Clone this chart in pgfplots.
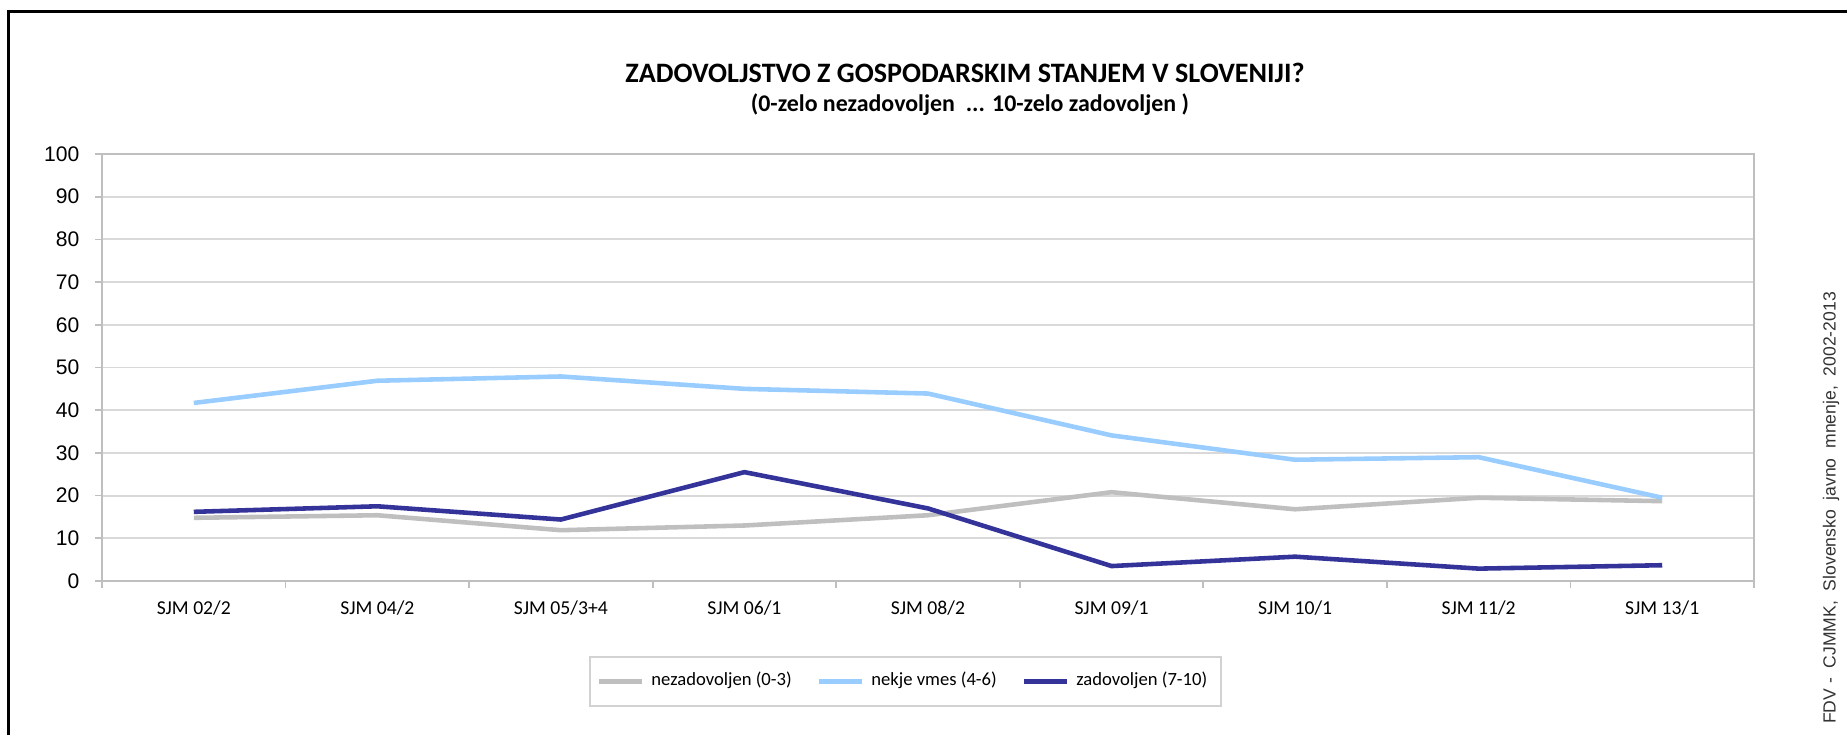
\documentclass[border=0pt]{standalone}
\usepackage{pgfplots}
\pgfplotsset{compat=1.18}
\usepackage{fontspec}
\setmainfont{Carlito}
\newfontfamily\calibri{Carlito}
\newfontfamily\arial{Liberation Sans}

\definecolor{lgray}{RGB}{191,191,191}
\definecolor{lblue}{RGB}{153,204,255}
\definecolor{dblue}{RGB}{51,51,153}

\begin{document}
\begin{tikzpicture}
\path[use as bounding box] (0,0) rectangle (184.7mm,73.5mm);
% frame (top and left only)
\draw[black, line width=0.3mm] (0.8mm,0) -- (0.8mm,72.4mm) -- (184.7mm,72.4mm);

\node[font=\calibri\bfseries\fontsize{8}{9}\selectfont] at (96.5mm,66.2mm)
  {ZADOVOLJSTVO Z GOSPODARSKIM STANJEM V SLOVENIJI?};
\node[font=\calibri\bfseries\fontsize{6.8}{8}\selectfont] at (97mm,63.0mm)
  {(0-zelo nezadovoljen\ \ ... 10-zelo zadovoljen\ )};

\begin{axis}[
  at={(10.2mm,15.4mm)}, anchor=south west,
  scale only axis, width=165.2mm, height=42.7mm,
  xmin=0.5, xmax=9.5, ymin=0, ymax=100,
  xtick={0.5,1.5,...,9.5},
  x tick label as interval,
  xticklabels={SJM 02/2,SJM 04/2,SJM 05/3+4,SJM 06/1,SJM 08/2,SJM 09/1,SJM 10/1,SJM 11/2,SJM 13/1},
  ytick={0,10,...,100},
  xtick pos=bottom, ytick pos=left,
  tick align=outside, major tick length=0.7mm,
  tick style={lgray, line width=0.5pt},
  axis line style={lgray, line width=0.8pt},
  ymajorgrids, grid style={gray!30, line width=0.55pt},
  /pgf/number format/assume math mode=true,
  yticklabel style={font=\arial\fontsize{6}{7}\selectfont, inner sep=0pt, xshift=-1.5mm},
  xticklabel style={font=\calibri\fontsize{5.6}{6.5}\selectfont, inner sep=0pt, yshift=-1.2mm},
  legend columns=3,
  legend style={at={(0.4864,-0.2354)}, anchor=center, draw=gray!35, line width=0.6pt,
    font=\calibri\fontsize{5.3}{6.3}\selectfont, inner xsep=0.7mm, inner ysep=0.8mm,
    /tikz/every even column/.append style={column sep=1.8mm}},
  legend image code/.code={\draw[#1] (0mm,0) -- (4.3mm,0);},
]
\addplot[color=lgray, line width=1.3pt] coordinates {
  (1,14.8) (2,15.4) (3,11.9) (4,13.0) (5,15.4) (6,20.8) (7,16.8) (8,19.5) (9,18.7)};
\addlegendentry{nezadovoljen (0-3)}
\addplot[color=lblue, line width=1.3pt] coordinates {
  (1,41.7) (2,46.9) (3,47.9) (4,45.0) (5,43.9) (6,34.1) (7,28.4) (8,29.0) (9,19.5)};
\addlegendentry{nekje vmes (4-6)}
\addplot[color=dblue, line width=1.3pt] coordinates {
  (1,16.2) (2,17.5) (3,14.4) (4,25.5) (5,17.0) (6,3.5) (7,5.7) (8,2.9) (9,3.7)};
\addlegendentry{zadovoljen (7-10)}
\end{axis}

\node[rotate=90, font=\arial\fontsize{5}{6}\selectfont, text=black!80] at (183.1mm,22.7mm)
  {FDV\ -\ \ CJMMK,\ \ Slovensko\ \ javno\ \ mnenje,\ \ 2002-2013};
\end{tikzpicture}
\end{document}
